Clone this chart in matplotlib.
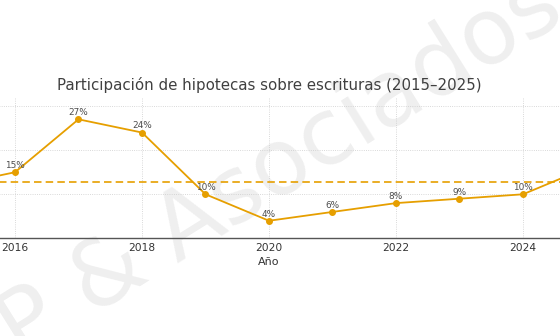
import numpy as np
import matplotlib
matplotlib.use("Agg")
import matplotlib.pyplot as plt
from matplotlib.ticker import MultipleLocator

years  = [2015, 2016, 2017, 2018, 2019, 2020, 2021, 2022, 2023, 2024, 2025]
share  = [12, 15, 27, 24, 10, 4, 6, 8, 9, 10, 16]
labels = [f"{v}%" for v in share]

ORANGE = "#E69F00"
mean_share = np.mean(share)

fig = plt.figure(figsize=(5.6, 3.36), dpi=100)
# the picture is a crop of a wider chart, so the axes run past the figure edges
ax = fig.add_axes([-0.1433, 0.2905, 1.2473, 0.42])
ax.patch.set_visible(False)

ax.plot(years, share, color=ORANGE, lw=1.3, marker="o", ms=4, zorder=3)
ax.axhline(mean_share, color=ORANGE, lw=1.2, ls=(0, (4.5, 2.5)), zorder=2)

for x, y, t in zip(years, share, labels):
    ax.annotate(t, (x, y), xytext=(0, 1.5), textcoords="offset points",
                ha="center", va="bottom", fontsize=6.4, color="#4d4d4d")

ax.set_xlim(2014.5, 2025.5)
ax.set_ylim(0, 32)
ax.xaxis.set_major_locator(MultipleLocator(2))
ax.yaxis.set_major_locator(MultipleLocator(10))
ax.grid(True, color="#cccccc", ls=":", lw=0.6)
ax.tick_params(axis="both", length=0, pad=3, labelsize=7.7, colors="#333333")

for side in ["top", "right", "left"]:
    ax.spines[side].set_visible(False)
ax.spines["bottom"].set_color("#555555")
ax.spines["bottom"].set_linewidth(1.0)

ax.set_xlabel("Año", fontsize=8, color="#333333", labelpad=3)
ax.set_title("Participación de hipotecas sobre escrituras (2015–2025)",
             fontsize=10.8, color="#404040", pad=5)

# watermark
fig.text(0.5, 0.5, "P & Asociados", fontsize=66, color="#000000", alpha=0.065,
         rotation=32, ha="center", va="center", zorder=-1)

fig.savefig("out.png", dpi=100)
